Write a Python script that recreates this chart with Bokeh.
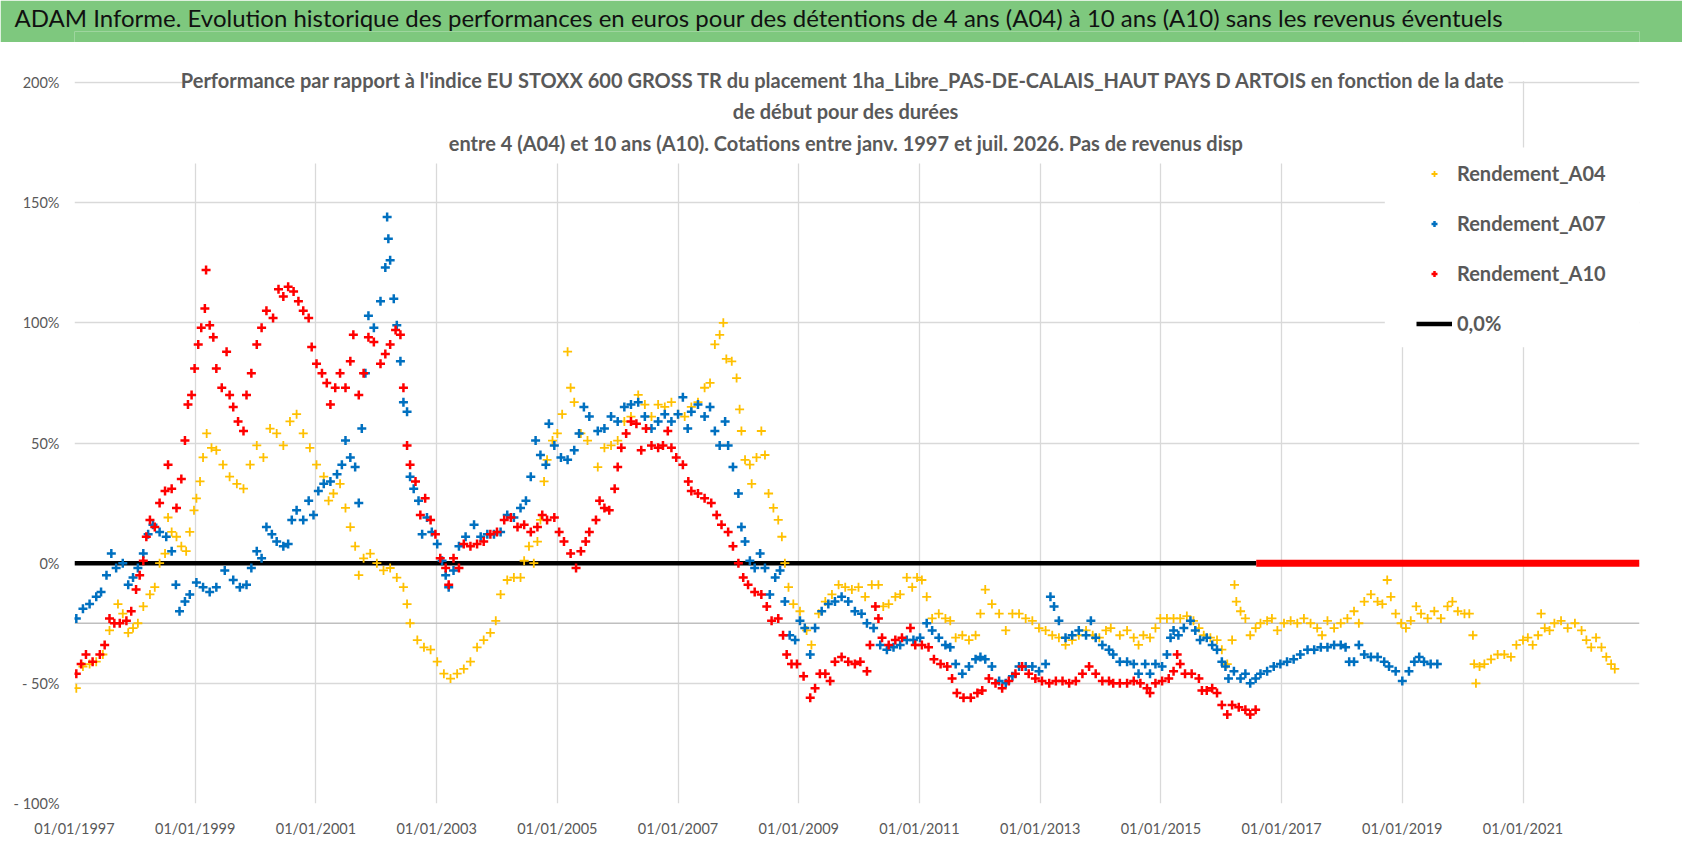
from bokeh.plotting import figure
from bokeh.models import Range1d, FixedTicker, Label, Legend, LegendItem, Span, Title
from bokeh.layouts import column
from bokeh.embed import file_html
from bokeh.resources import INLINE

HEADER = ("ADAM Informe. Evolution historique des performances en euros pour des détentions "
          "de 4 ans (A04) à 10 ans (A10) sans les revenus éventuels")
TITLE_LINES = [
    "Performance par rapport à l'indice EU STOXX 600 GROSS TR  du placement "
    "1ha_Libre_PAS-DE-CALAIS_HAUT PAYS D ARTOIS en fonction de la date",
    "de début pour des durées",
    "entre 4 (A04) et 10 ans (A10). Cotations entre janv. 1997 et juil. 2026. Pas de revenus disp",
]

TICK_YEARS = [1997, 1999, 2001, 2003, 2005, 2007, 2009, 2011, 2013, 2015, 2017, 2019, 2021]
TICK_LABELS = ["01/01/%d" % y for y in TICK_YEARS]
Y_TICKS = [-100, -50, 0, 50, 100, 150, 200]
Y_LABELS = ["- 100%", "- 50%", "0%", "50%", "100%", "150%", "200%"]

# (decimal year, performance %)
A04_POINTS = [
    (1997.03, -52), (1997.14, -43), (1997.25, -42), (1997.36, -41), (1997.47, -38), (1997.58, -28),
    (1997.72, -17), (1997.80, -21), (1997.89, -29), (1997.97, -27), (1998.05, -25), (1998.14, -18),
    (1998.25, -13), (1998.33, -10), (1998.41, 0), (1998.50, 4), (1998.55, 19), (1998.61, 13),
    (1998.69, 11), (1998.77, 7), (1998.85, 5), (1998.91, 13), (1998.98, 22), (1999.02, 27),
    (1999.08, 34), (1999.13, 44), (1999.19, 54), (1999.27, 48), (1999.35, 47), (1999.46, 41),
    (1999.57, 36), (1999.69, 33), (1999.80, 31), (1999.91, 41), (2000.02, 49), (2000.13, 44),
    (2000.24, 56), (2000.35, 54), (2000.46, 49), (2000.57, 59), (2000.68, 62), (2000.79, 54),
    (2000.90, 48), (2001.01, 41), (2001.13, 36), (2001.21, 26), (2001.29, 29), (2001.40, 33),
    (2001.49, 23), (2001.57, 15), (2001.65, 7), (2001.71, -5), (2001.79, 2), (2001.90, 4),
    (2002.01, 0), (2002.12, -3), (2002.23, -2), (2002.34, -6), (2002.45, -10), (2002.51, -17),
    (2002.56, -25), (2002.68, -32), (2002.79, -35), (2002.90, -36), (2003.01, -41), (2003.12, -46),
    (2003.23, -48), (2003.34, -46), (2003.45, -44), (2003.56, -41), (2003.67, -35), (2003.78, -32),
    (2003.89, -29), (2003.98, -24), (2004.06, -13), (2004.17, -7), (2004.28, -6), (2004.39, -6),
    (2004.45, 1), (2004.53, 7), (2004.61, 0), (2004.67, 9), (2004.72, 18), (2004.78, 34),
    (2004.83, 43), (2004.92, 51), (2005.00, 54), (2005.08, 62), (2005.17, 88), (2005.22, 73),
    (2005.28, 67), (2005.39, 54), (2005.50, 51), (2005.67, 40), (2005.78, 48), (2005.89, 49),
    (2006.00, 51), (2006.11, 59), (2006.22, 61), (2006.34, 70), (2006.45, 66), (2006.56, 61),
    (2006.67, 66), (2006.78, 65), (2006.89, 67), (2007.00, 62), (2007.11, 61), (2007.22, 65),
    (2007.33, 67), (2007.44, 73), (2007.53, 75), (2007.61, 91), (2007.69, 95), (2007.75, 100),
    (2007.80, 85), (2007.89, 84), (2007.97, 77), (2008.02, 64), (2008.05, 55), (2008.11, 43),
    (2008.19, 41), (2008.22, 33), (2008.30, 44), (2008.38, 55), (2008.44, 45), (2008.50, 29),
    (2008.58, 23), (2008.66, 18), (2008.72, 11), (2008.77, 0), (2008.83, -10), (2008.91, -17),
    (2009.02, -20), (2009.13, -28), (2009.21, -34), (2009.33, -21), (2009.44, -16), (2009.55, -13),
    (2009.66, -9), (2009.77, -10), (2009.88, -11), (2009.99, -10), (2010.10, -14), (2010.21, -9),
    (2010.32, -9), (2010.40, -18), (2010.49, -17), (2010.60, -14), (2010.68, -13), (2010.79, -6),
    (2010.88, -10), (2010.96, -6), (2011.04, -7), (2011.12, -14), (2011.21, -23), (2011.32, -21),
    (2011.43, -23), (2011.51, -24), (2011.60, -31), (2011.71, -30), (2011.82, -32), (2011.93, -30),
    (2012.01, -21), (2012.09, -11), (2012.20, -17), (2012.32, -21), (2012.43, -28), (2012.54, -21),
    (2012.65, -21), (2012.76, -23), (2012.87, -24), (2012.98, -27), (2013.09, -28), (2013.20, -30),
    (2013.31, -31), (2013.42, -34), (2013.53, -32), (2013.64, -30), (2013.76, -28), (2013.87, -30),
    (2013.98, -31), (2014.09, -28), (2014.17, -27), (2014.32, -30), (2014.44, -28), (2014.55, -31),
    (2014.63, -34), (2014.71, -30), (2014.82, -31), (2014.91, -27), (2014.99, -23), (2015.10, -23),
    (2015.21, -23), (2015.32, -23), (2015.43, -22), (2015.54, -24), (2015.63, -27), (2015.71, -30),
    (2015.82, -31), (2015.93, -32), (2016.01, -36), (2016.10, -42), (2016.18, -32), (2016.22, -9),
    (2016.25, -16), (2016.32, -20), (2016.40, -23), (2016.48, -30), (2016.57, -27), (2016.65, -25),
    (2016.76, -24), (2016.84, -23), (2016.93, -28), (2017.04, -25), (2017.15, -24), (2017.26, -25),
    (2017.37, -23), (2017.48, -25), (2017.59, -27), (2017.67, -30), (2017.76, -24), (2017.87, -27),
    (2017.98, -25), (2018.09, -23), (2018.20, -20), (2018.28, -25), (2018.37, -16), (2018.48, -13),
    (2018.59, -16), (2018.67, -17), (2018.75, -7), (2018.81, -14), (2018.89, -21), (2018.98, -25),
    (2019.06, -27), (2019.14, -24), (2019.23, -18), (2019.31, -21), (2019.42, -23), (2019.53, -20),
    (2019.64, -23), (2019.75, -18), (2019.83, -16), (2019.92, -20), (2020.03, -21), (2020.11, -21),
    (2020.17, -30), (2020.19, -42), (2020.22, -50), (2020.28, -43), (2020.36, -42), (2020.47, -40),
    (2020.58, -38), (2020.69, -38), (2020.80, -39), (2020.89, -34), (2021.00, -32), (2021.08, -31),
    (2021.16, -34), (2021.25, -30), (2021.30, -21), (2021.36, -27), (2021.44, -28), (2021.52, -25),
    (2021.63, -24), (2021.74, -27), (2021.86, -25), (2021.97, -28), (2022.05, -32), (2022.13, -35),
    (2022.21, -31), (2022.30, -35), (2022.38, -39), (2022.46, -42), (2022.52, -44),
]

A07_POINTS = [
    (1997.03, -23), (1997.14, -19), (1997.25, -17), (1997.36, -14), (1997.44, -12), (1997.53, -5),
    (1997.61, 4), (1997.69, -2), (1997.80, 0), (1997.89, -9), (1997.97, -6), (1998.05, -2),
    (1998.14, 4), (1998.22, 12), (1998.30, 16), (1998.41, 13), (1998.52, 11), (1998.61, 5),
    (1998.68, -9), (1998.74, -20), (1998.83, -16), (1998.91, -13), (1999.02, -8), (1999.13, -10),
    (1999.24, -12), (1999.35, -10), (1999.49, -3), (1999.63, -7), (1999.74, -10), (1999.85, -9),
    (1999.93, -2), (2000.02, 5), (2000.10, 2), (2000.18, 15), (2000.27, 12), (2000.35, 9),
    (2000.46, 7), (2000.54, 8), (2000.60, 18), (2000.68, 22), (2000.79, 18), (2000.88, 26),
    (2000.96, 20), (2001.04, 30), (2001.13, 33), (2001.24, 34), (2001.35, 37), (2001.43, 41),
    (2001.49, 51), (2001.57, 44), (2001.65, 40), (2001.71, 25), (2001.76, 56), (2001.82, 79),
    (2001.87, 103), (2001.96, 98), (2002.07, 109), (2002.15, 123), (2002.18, 144), (2002.20, 135),
    (2002.23, 126), (2002.29, 110), (2002.34, 99), (2002.40, 84), (2002.45, 67), (2002.51, 63),
    (2002.56, 36), (2002.62, 31), (2002.70, 26), (2002.76, 12), (2002.84, 19), (2002.92, 13),
    (2003.01, 8), (2003.09, 1), (2003.15, -5), (2003.20, -10), (2003.28, -3), (2003.37, 7),
    (2003.48, 11), (2003.62, 16), (2003.73, 11), (2003.84, 12), (2003.95, 12), (2004.06, 13),
    (2004.17, 20), (2004.28, 19), (2004.39, 23), (2004.48, 26), (2004.56, 36), (2004.64, 51),
    (2004.72, 45), (2004.81, 41), (2004.86, 58), (2004.95, 49), (2005.06, 44), (2005.17, 43),
    (2005.28, 47), (2005.36, 54), (2005.44, 65), (2005.53, 61), (2005.67, 55), (2005.78, 56),
    (2005.89, 61), (2006.00, 59), (2006.11, 65), (2006.22, 66), (2006.34, 67), (2006.45, 61),
    (2006.56, 56), (2006.67, 59), (2006.78, 62), (2006.89, 59), (2007.00, 62), (2007.08, 69),
    (2007.16, 56), (2007.22, 63), (2007.33, 66), (2007.44, 61), (2007.53, 65), (2007.61, 55),
    (2007.69, 49), (2007.78, 59), (2007.83, 49), (2007.91, 40), (2008.00, 29), (2008.05, 15),
    (2008.11, 9), (2008.19, 1), (2008.27, -2), (2008.36, 4), (2008.44, -2), (2008.52, -13),
    (2008.61, -6), (2008.69, -3), (2008.77, -16), (2008.85, -30), (2008.94, -32), (2009.02, -24),
    (2009.10, -27), (2009.19, -38), (2009.27, -27), (2009.38, -20), (2009.49, -17), (2009.60, -16),
    (2009.71, -14), (2009.82, -16), (2009.93, -20), (2010.04, -21), (2010.13, -25), (2010.24, -27),
    (2010.35, -34), (2010.46, -36), (2010.57, -35), (2010.68, -34), (2010.79, -32), (2010.90, -32),
    (2011.01, -31), (2011.12, -25), (2011.21, -28), (2011.32, -31), (2011.43, -34), (2011.51, -35),
    (2011.60, -42), (2011.71, -46), (2011.82, -43), (2011.93, -40), (2012.01, -39), (2012.09, -40),
    (2012.20, -43), (2012.32, -49), (2012.43, -50), (2012.54, -47), (2012.65, -43), (2012.76, -43),
    (2012.87, -43), (2012.98, -45), (2013.09, -42), (2013.17, -14), (2013.23, -18), (2013.31, -24),
    (2013.42, -31), (2013.53, -30), (2013.64, -28), (2013.76, -30), (2013.84, -24), (2013.92, -31),
    (2014.03, -34), (2014.14, -36), (2014.21, -38), (2014.32, -41), (2014.44, -41), (2014.55, -42),
    (2014.63, -46), (2014.74, -42), (2014.82, -46), (2014.91, -42), (2015.02, -43), (2015.10, -38),
    (2015.16, -31), (2015.21, -28), (2015.29, -30), (2015.38, -27), (2015.49, -24), (2015.57, -28),
    (2015.65, -32), (2015.76, -31), (2015.85, -34), (2015.93, -36), (2016.01, -41), (2016.07, -43),
    (2016.12, -48), (2016.21, -45), (2016.32, -48), (2016.40, -46), (2016.48, -50), (2016.57, -48),
    (2016.65, -46), (2016.76, -45), (2016.87, -43), (2016.98, -42), (2017.09, -41), (2017.20, -40),
    (2017.31, -38), (2017.43, -36), (2017.54, -36), (2017.65, -35), (2017.76, -35), (2017.87, -34),
    (2017.98, -34), (2018.06, -35), (2018.12, -41), (2018.20, -41), (2018.28, -34), (2018.37, -38),
    (2018.48, -39), (2018.59, -39), (2018.70, -41), (2018.78, -43), (2018.89, -45), (2019.00, -49),
    (2019.11, -45), (2019.20, -41), (2019.28, -39), (2019.36, -41), (2019.47, -42), (2019.58, -42),
]

A10_POINTS = [
    (1997.03, -46), (1997.11, -42), (1997.19, -38), (1997.30, -41), (1997.42, -38), (1997.50, -34),
    (1997.58, -23), (1997.66, -25), (1997.75, -25), (1997.86, -24), (1997.94, -20), (1998.02, -11),
    (1998.08, -5), (1998.14, 1), (1998.19, 11), (1998.25, 18), (1998.33, 15), (1998.41, 25),
    (1998.50, 30), (1998.55, 41), (1998.61, 31), (1998.69, 23), (1998.77, 35), (1998.83, 51),
    (1998.88, 66), (1998.94, 70), (1998.99, 81), (1999.05, 91), (1999.10, 98), (1999.16, 106),
    (1999.18, 122), (1999.24, 99), (1999.30, 94), (1999.35, 81), (1999.44, 73), (1999.52, 88),
    (1999.57, 70), (1999.63, 65), (1999.71, 59), (1999.80, 55), (1999.85, 70), (1999.93, 79),
    (2000.02, 91), (2000.10, 98), (2000.18, 105), (2000.29, 102), (2000.38, 114), (2000.46, 111),
    (2000.54, 115), (2000.63, 113), (2000.71, 109), (2000.79, 105), (2000.88, 102), (2000.93, 90),
    (2001.01, 83), (2001.10, 79), (2001.18, 75), (2001.24, 66), (2001.32, 73), (2001.40, 79),
    (2001.49, 73), (2001.57, 84), (2001.62, 95), (2001.71, 70), (2001.79, 79), (2001.87, 94),
    (2001.96, 92), (2002.07, 83), (2002.15, 87), (2002.23, 91), (2002.32, 97), (2002.40, 95),
    (2002.45, 73), (2002.51, 49), (2002.56, 41), (2002.65, 34), (2002.73, 20), (2002.81, 27),
    (2002.90, 18), (2002.98, 12), (2003.06, 2), (2003.15, -2), (2003.20, -9), (2003.28, 2),
    (2003.37, -2), (2003.45, 8), (2003.56, 7), (2003.67, 8), (2003.78, 9), (2003.89, 12),
    (2004.00, 13), (2004.12, 18), (2004.23, 19), (2004.34, 15), (2004.45, 16), (2004.56, 13),
    (2004.67, 15), (2004.75, 20), (2004.83, 18), (2004.95, 19), (2005.03, 13), (2005.11, 9),
    (2005.22, 4), (2005.31, -2), (2005.39, 5), (2005.47, 9), (2005.53, 13), (2005.64, 18),
    (2005.70, 26), (2005.78, 23), (2005.86, 22), (2005.95, 31), (2006.00, 40), (2006.06, 48),
    (2006.14, 54), (2006.22, 59), (2006.31, 58), (2006.39, 47), (2006.47, 56), (2006.56, 49),
    (2006.67, 48), (2006.75, 49), (2006.83, 55), (2006.89, 48), (2006.97, 44), (2007.08, 41),
    (2007.17, 34), (2007.22, 30), (2007.33, 29), (2007.44, 27), (2007.55, 25), (2007.64, 20),
    (2007.72, 16), (2007.83, 13), (2007.91, 7), (2008.00, 0), (2008.08, -6), (2008.16, -9),
    (2008.27, -12), (2008.38, -13), (2008.47, -18), (2008.55, -24), (2008.66, -23), (2008.74, -30),
    (2008.80, -38), (2008.88, -42), (2008.97, -42), (2009.08, -47), (2009.19, -56), (2009.27, -52),
    (2009.35, -46), (2009.44, -46), (2009.52, -49), (2009.60, -41), (2009.71, -39), (2009.82, -41),
    (2009.93, -42), (2010.02, -41), (2010.13, -45), (2010.18, -34), (2010.27, -18), (2010.32, -23),
    (2010.38, -31), (2010.49, -34), (2010.60, -32), (2010.71, -31), (2010.85, -27), (2010.93, -34),
    (2011.04, -34), (2011.15, -35), (2011.24, -40), (2011.35, -42), (2011.46, -43), (2011.54, -48),
    (2011.62, -54), (2011.73, -56), (2011.85, -56), (2011.96, -54), (2012.04, -53), (2012.15, -48),
    (2012.26, -50), (2012.37, -52), (2012.48, -49), (2012.59, -46), (2012.70, -43), (2012.81, -46),
    (2012.92, -48), (2013.03, -49), (2013.15, -50), (2013.26, -49), (2013.37, -49), (2013.48, -50),
    (2013.59, -49), (2013.70, -46), (2013.81, -43), (2013.92, -46), (2014.03, -49), (2014.14, -49),
    (2014.21, -50), (2014.32, -50), (2014.44, -50), (2014.55, -49), (2014.66, -50), (2014.77, -52),
    (2014.82, -54), (2014.91, -50), (2015.02, -49), (2015.13, -48), (2015.21, -45), (2015.27, -38),
    (2015.32, -42), (2015.40, -46), (2015.51, -46), (2015.63, -48), (2015.68, -53), (2015.76, -53),
    (2015.85, -52), (2015.93, -54), (2016.01, -59), (2016.10, -63), (2016.18, -59), (2016.29, -60),
    (2016.40, -61), (2016.48, -63), (2016.57, -61),
]

# after mid-2016 the A10 series is flat at 0 until the end of the axis
A10_FLAT_YEARS = [2016.58, 2022.93]
A10_FLAT_PCT = [0, 0]
ZERO_YEARS = [1997.0, 2016.58]
ZERO_PCT = [0, 0]

X_START, X_END = 1997.0, 2022.93

FONT = "Lato"
GREY = "#595959"
GREEN = "#7ec87e"
W = 1682

# green banner; its text sits in the title panel, shifted left of the (aligned) frame
head = figure(width=W, height=42, x_range=Range1d(0, 1), y_range=Range1d(0, 1),
              x_axis_type=None, y_axis_type=None, toolbar_location=None,
              output_backend="svg", min_border_left=74, min_border_right=43,
              min_border_top=6, min_border_bottom=0)
head.grid.visible = False
head.background_fill_color = GREEN
head.border_fill_color = GREEN
head.outline_line_color = None
head.add_layout(Title(text=HEADER, align="left", offset=-60, standoff=0, text_font=FONT,
                      text_font_size="24px", text_font_style="normal", text_color="#111111"),
                "above")

# the frame reaches above 200% so the chart title can sit on the top gridline
p = figure(width=W, height=798, x_range=Range1d(X_START, X_END), y_range=Range1d(-100, 216.65),
           toolbar_location=None, output_backend="svg",
           min_border_left=74, min_border_right=43, min_border_top=0, min_border_bottom=37)
p.outline_line_color = None
p.background_fill_color = "white"
p.border_fill_color = "white"

p.xaxis.ticker = FixedTicker(ticks=TICK_YEARS)
p.xaxis.major_label_overrides = dict(zip(TICK_YEARS, TICK_LABELS))
p.yaxis.ticker = FixedTicker(ticks=Y_TICKS)
p.yaxis.major_label_overrides = dict(zip(Y_TICKS, Y_LABELS))
for ax in (p.xaxis, p.yaxis):
    ax.axis_line_color = None
    ax.major_tick_line_color = None
    ax.minor_tick_line_color = None
    ax.major_tick_out = 0
    ax.major_label_text_font = FONT
    ax.major_label_text_color = GREY
    ax.major_label_text_font_size = "14.5px"
p.xaxis.major_label_standoff = 16
p.yaxis.major_label_standoff = 15

p.grid.grid_line_color = "#d9d9d9"
p.grid.grid_line_width = 1.3
p.add_layout(Span(location=-25, dimension="width", line_color="#bfbfbf", line_width=1.5,
                  level="underlay"))

# white boxes: strip above 200%, chart title box and legend box hide the gridlines
p.quad(left=X_START - 1, right=X_END + 1, bottom=200.5, top=220, fill_color="white", line_color=None)
p.quad(left=1998.79, right=2020.76, bottom=166.3, top=220, fill_color="white", line_color=None)
p.quad(left=2018.71, right=X_END + 1, bottom=89.8, top=173, fill_color="white", line_color=None)

zero = p.line(ZERO_YEARS, ZERO_PCT, line_color="black", line_width=4.5)

x04, y04 = zip(*A04_POINTS)
x07, y07 = zip(*A07_POINTS)
x10, y10 = zip(*A10_POINTS)
r04 = p.scatter(x04, y04, marker="cross", size=9, line_color="#ffc000", line_width=1.8)
r07 = p.scatter(x07, y07, marker="cross", size=9, line_color="#0070c0", line_width=2.5)
r10 = p.scatter(x10, y10, marker="cross", size=9, line_color="#ff0000", line_width=2.5)
p.line(A10_FLAT_YEARS, A10_FLAT_PCT, line_color="#ff0000", line_width=7)

title_x = 2009.78
for txt, ty in zip(TITLE_LINES, [200.9, 188.0, 174.7]):
    p.add_layout(Label(x=title_x, y=ty, text=txt, text_align="center", text_baseline="middle",
                       text_font=FONT, text_font_style="bold", text_font_size="20px",
                       text_color=GREY))

legend = Legend(items=[
    LegendItem(label="Rendement_A04", renderers=[r04]),
    LegendItem(label="Rendement_A07", renderers=[r07]),
    LegendItem(label="Rendement_A10", renderers=[r10]),
    LegendItem(label="0,0%", renderers=[zero]),
], location=(1342, 467))
legend.background_fill_alpha = 0
legend.border_line_color = None
legend.padding = 0
legend.margin = 0
legend.spacing = 24
legend.glyph_width = 36
legend.glyph_height = 15
legend.label_height = 26
legend.label_standoff = 5
legend.label_text_font = FONT
legend.label_text_font_style = "bold"
legend.label_text_font_size = "20px"
legend.label_text_color = GREY
p.add_layout(legend)

page = column(head, p)
open("out.html", "w").write(file_html(page, INLINE))
